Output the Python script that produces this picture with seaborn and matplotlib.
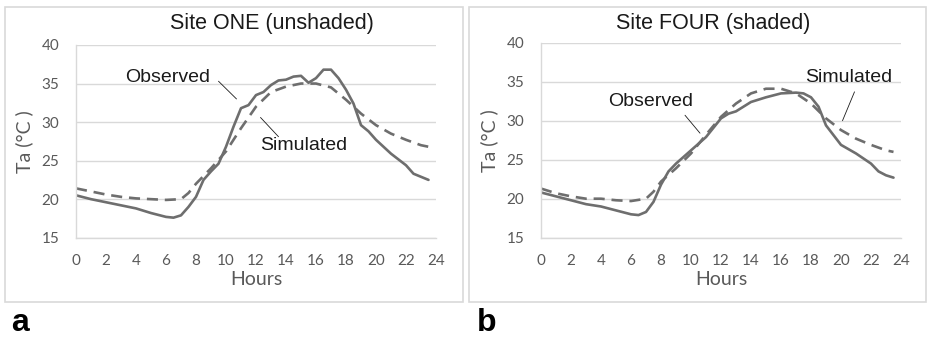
import numpy as np
import pandas as pd
import matplotlib
matplotlib.use("Agg")
import matplotlib.pyplot as plt
import seaborn as sns
from matplotlib.patches import Rectangle

sns.set_theme(style="white")
plt.rcParams['font.family'] = ['Liberation Sans', 'DejaVu Sans']

# ---- data ----
hours_obs1 = [0, 1, 2, 3, 4, 5, 6, 6.5, 7, 7.5, 8, 8.5, 9, 9.5, 10, 10.5, 11, 11.5, 12, 12.5,
              13, 13.5, 14, 14.5, 15, 15.5, 16, 16.5, 17, 17.5, 18, 18.5, 19, 19.5, 20, 21,
              22, 22.5, 23, 23.5]
obs_site1 = [20.5, 20.0, 19.6, 19.2, 18.8, 18.2, 17.7, 17.6, 17.9, 19.0, 20.3, 22.5, 23.6, 24.6,
             26.8, 29.4, 31.8, 32.2, 33.5, 33.9, 34.8, 35.4, 35.5, 35.9, 36.0, 35.1, 35.7, 36.8,
             36.8, 35.7, 34.2, 32.4, 29.6, 28.8, 27.7, 25.9, 24.4, 23.3, 22.9, 22.5]
hours_sim1 = [0, 1, 2, 3, 4, 5, 6, 7, 7.5, 8, 9, 10, 11, 12, 13, 14, 15, 16, 17, 18, 19, 20,
              21, 22, 23, 23.5]
sim_site1 = [21.4, 21.0, 20.6, 20.3, 20.1, 20.0, 19.9, 20.0, 20.8, 22.0, 24.0, 26.2, 29.2, 32.0,
             33.9, 34.6, 35.0, 35.0, 34.5, 32.9, 31.1, 29.6, 28.5, 27.7, 27.0, 26.8]

hours_obs4 = [0, 1, 2, 3, 4, 5, 6, 6.5, 7, 7.5, 8, 8.5, 9, 10, 11, 12, 12.5, 13, 14, 15, 16,
              17, 17.5, 18, 18.5, 19, 20, 21, 22, 22.5, 23, 23.5]
obs_site4 = [20.8, 20.3, 19.8, 19.3, 19.0, 18.5, 18.0, 17.9, 18.3, 19.6, 21.8, 23.5, 24.5, 26.2,
             27.9, 30.3, 30.9, 31.2, 32.4, 33.0, 33.5, 33.6, 33.5, 33.0, 31.8, 29.4, 26.9, 25.8,
             24.5, 23.5, 23.0, 22.7]
hours_sim4 = [0, 1, 2, 3, 4, 5, 6, 7, 7.5, 8, 9, 10, 11, 12, 13, 14, 15, 16, 17, 18, 19, 20,
              21, 22, 23, 23.5]
sim_site4 = [21.3, 20.7, 20.3, 20.0, 20.0, 19.8, 19.7, 20.0, 20.9, 22.2, 23.9, 25.8, 28.2, 30.5,
             32.2, 33.5, 34.1, 34.1, 33.5, 32.2, 30.3, 28.8, 27.7, 26.9, 26.2, 26.0]

titles = ["Site ONE (unshaded)", "Site FOUR (shaded)"]
panel_letters = ["a", "b"]
x_ticks = list(range(0, 25, 2))
y_ticks = [15, 20, 25, 30, 35, 40]

W, H = 927, 338
fig = plt.figure(figsize=(W / 100, H / 100), dpi=100)

LINE = "#6e6e6e"
GRID = "#d9d9d9"
TICK = "#595959"

def px_axes(x0, x1, ytop, ybot):
    return fig.add_axes([x0 / W, 1 - ybot / H, (x1 - x0) / W, (ybot - ytop) / H])

ax1 = px_axes(76, 436, 45, 237.7)
ax2 = px_axes(541, 901, 42.7, 237.7)

panels = [
    (ax1, hours_obs1, obs_site1, hours_sim1, sim_site1),
    (ax2, hours_obs4, obs_site4, hours_sim4, sim_site4),
]

for ax, ho, o, hs, s in panels:
    dfo = pd.DataFrame({"Hours": ho, "Ta": o})
    dfs = pd.DataFrame({"Hours": hs, "Ta": s})
    sns.lineplot(data=dfo, x="Hours", y="Ta", ax=ax, color=LINE, lw=1.9)
    sns.lineplot(data=dfs, x="Hours", y="Ta", ax=ax, color=LINE, lw=1.9, linestyle=(0, (4.2, 2.6)))
    ax.set_xlim(0, 24)
    ax.set_ylim(15, 40)
    ax.set_xticks(x_ticks)
    ax.set_yticks(y_ticks)
    ax.yaxis.grid(True, color=GRID, lw=1.0)
    ax.set_axisbelow(True)
    for sp in ["top", "right"]:
        ax.spines[sp].set_visible(False)
    for sp in ["left", "bottom"]:
        ax.spines[sp].set_color(GRID)
        ax.spines[sp].set_linewidth(1.0)
    ax.tick_params(axis="both", length=0, labelsize=11, labelcolor=TICK)
    ax.tick_params(axis="y", pad=12)
    ax.tick_params(axis="x", pad=12)
    for lab in ax.get_xticklabels() + ax.get_yticklabels():
        lab.set_family(["Lato", "DejaVu Sans"])
    ax.set_xlabel("Hours", fontsize=14, color=TICK, family=["Lato", "DejaVu Sans"], labelpad=2)
    ax.set_ylabel("Ta (°C )", fontsize=14, color=TICK, family=["Lato", "DejaVu Sans"], labelpad=6)

# annotations
ax1.text(6.1, 35.8, "Observed", fontsize=14, color="#1a1a1a", ha="center", va="center")
ax1.plot([9.5, 10.7], [35.3, 33.0], color="#1a1a1a", lw=0.6)
ax1.text(15.2, 27.0, "Simulated", fontsize=14, color="#1a1a1a", ha="center", va="center")
ax1.plot([12.3, 13.5], [30.6, 28.1], color="#1a1a1a", lw=0.6)

ax2.text(7.3, 32.4, "Observed", fontsize=14, color="#1a1a1a", ha="center", va="center")
ax2.plot([9.6, 10.6], [30.7, 28.4], color="#1a1a1a", lw=0.6)
ax2.text(20.5, 35.6, "Simulated", fontsize=14, color="#1a1a1a", ha="center", va="center")
ax2.plot([20.9, 20.1], [33.7, 30.0], color="#1a1a1a", lw=0.6)

# titles
fig.text(272 / W, 1 - 23 / H, titles[0], fontsize=15.5, color="#1a1a1a", ha="center", va="center")
fig.text(713 / W, 1 - 24 / H, titles[1], fontsize=15.5, color="#1a1a1a", ha="center", va="center")

# panel frames
for (x0, x1) in [(5, 463), (469, 926)]:
    fig.patches.append(Rectangle((x0 / W, 1 - 301.5 / H), (x1 - x0) / W, (301.5 - 7) / H,
                                 transform=fig.transFigure, fill=False, ec=GRID, lw=1.2))

# panel letters
fig.text(11 / W, 1 - 323 / H, panel_letters[0], fontsize=23, fontweight="bold", color="black",
         ha="left", va="center")
fig.text(477 / W, 1 - 323 / H, panel_letters[1], fontsize=23, fontweight="bold", color="black",
         ha="left", va="center")

fig.savefig("out.png", dpi=100)
